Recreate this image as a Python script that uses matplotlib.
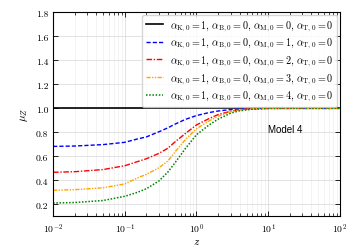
import matplotlib
matplotlib.use("Agg")
import matplotlib.pyplot as plt
import numpy as np

plt.rcParams['mathtext.fontset'] = 'cm'
plt.rcParams['font.family'] = 'serif'
plt.rcParams['font.serif'] = ['cmr10', 'DejaVu Serif']
plt.rcParams['axes.formatter.use_mathtext'] = True

z = [0.01, 0.02, 0.05, 0.1, 0.15, 0.2, 0.3, 0.4, 0.5, 0.7, 1.0, 1.5, 2.0, 3.0, 4.0, 6.0, 10.0, 20.0, 100.0]
mu_black = [1.0] * len(z)
mu_blue = [0.683, 0.686, 0.698, 0.717, 0.745, 0.762, 0.805, 0.838, 0.868, 0.908, 0.940, 0.965, 0.978, 0.990, 0.996, 0.999, 1.0, 1.0, 1.0]
mu_red = [0.467, 0.472, 0.490, 0.522, 0.556, 0.580, 0.625, 0.668, 0.720, 0.790, 0.862, 0.915, 0.948, 0.976, 0.990, 0.997, 1.0, 1.0, 1.0]
mu_orange = [0.317, 0.322, 0.338, 0.370, 0.420, 0.450, 0.505, 0.562, 0.635, 0.740, 0.830, 0.895, 0.935, 0.972, 0.987, 0.996, 1.0, 1.0, 1.0]
mu_green = [0.211, 0.215, 0.232, 0.267, 0.300, 0.330, 0.395, 0.470, 0.545, 0.665, 0.780, 0.862, 0.910, 0.960, 0.980, 0.993, 0.999, 1.0, 1.0]
labels = [
    r'$\alpha_{\rm K,0}=1,\,\alpha_{\rm B,0}=0,\,\alpha_{\rm M,0}=0,\,\alpha_{\rm T,0}=0$',
    r'$\alpha_{\rm K,0}=1,\,\alpha_{\rm B,0}=0,\,\alpha_{\rm M,0}=1,\,\alpha_{\rm T,0}=0$',
    r'$\alpha_{\rm K,0}=1,\,\alpha_{\rm B,0}=0,\,\alpha_{\rm M,0}=2,\,\alpha_{\rm T,0}=0$',
    r'$\alpha_{\rm K,0}=1,\,\alpha_{\rm B,0}=0,\,\alpha_{\rm M,0}=3,\,\alpha_{\rm T,0}=0$',
    r'$\alpha_{\rm K,0}=1,\,\alpha_{\rm B,0}=0,\,\alpha_{\rm M,0}=4,\,\alpha_{\rm T,0}=0$',
]

fig = plt.figure(figsize=(3.54, 2.53), dpi=100)
ax = fig.add_axes([0.150, 0.141, 0.810, 0.806])

series = [mu_black, mu_blue, mu_red, mu_orange, mu_green]
colors = ['black', 'blue', 'red', 'orange', 'green']
styles = ['-', (0, (3, 1.5)), (0, (4, 1.2, 1, 1.2)), (0, (3, 1, 1, 1, 1, 1)), (0, (1, 1.1))]
widths = [1.2, 1.0, 1.0, 1.0, 1.1]
for s, c, ls, lw, lab in zip(series, colors, styles, widths, labels):
    ax.plot(z, s, color=c, linestyle=ls, lw=lw, label=lab)

ax.set_xscale('log')
ax.set_xlim(1e-2, 1e2)
ax.set_ylim(0.1, 1.8)
ax.set_yticks(np.arange(0.2, 1.81, 0.2))
ax.set_yticklabels([f'{v:.1f}' for v in np.arange(0.2, 1.81, 0.2)])
ax.set_xlabel(r'$z$', fontsize=8, labelpad=1)
ax.set_ylabel(r'$\mu_Z$', fontsize=8, labelpad=4)
ax.tick_params(which='both', direction='in', top=True, right=True, labelsize=7)
ax.tick_params(which='major', length=3.5, width=0.6)
ax.tick_params(which='minor', length=2, width=0.5)
ax.grid(True, which='major', color='#dddddd', lw=0.6)
ax.grid(True, which='minor', color='#eeeeee', lw=0.5)
ax.set_axisbelow(True)
for sp in ax.spines.values():
    sp.set_linewidth(0.8)

ax.text(10, 0.83, 'Model 4', fontsize=7, family='Liberation Sans', va='center', ha='left')

ax.legend(loc='upper right', fontsize=7.3, frameon=True, handlelength=1.7, labelspacing=0.33,
          borderpad=0.35, handletextpad=0.7, borderaxespad=0.25, framealpha=0.8, edgecolor='#cccccc')

fig.savefig('out.png', dpi=100)
